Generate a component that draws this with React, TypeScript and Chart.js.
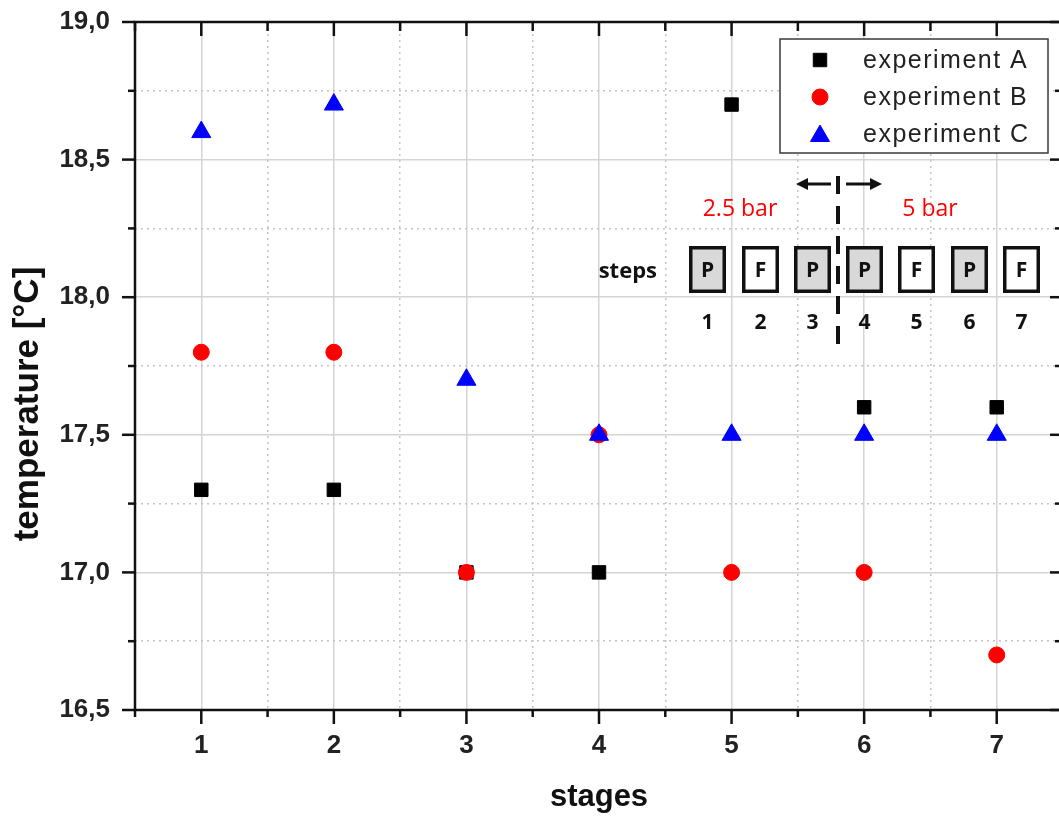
import React, { useEffect, useRef } from "react";
import { Chart, registerables } from "chart.js";

Chart.register(...registerables);

// ---- data ----
const stages = [1, 2, 3, 4, 5, 6, 7];
const experimentA = [17.3, 17.3, 17.0, 17.0, 18.7, 17.6, 17.6];
const experimentB = [17.8, 17.8, 17.0, 17.5, 17.0, 17.0, 16.7];
const experimentC = [18.6, 18.7, 17.7, 17.5, 17.5, 17.5, 17.5];
const seriesLabels = ["experiment A", "experiment B", "experiment C"];
const seriesColors = ["#000000", "#ff0000", "#0000ff"];
const seriesStyles = ["rect", "circle", "triangle"];

const xTitle = "stages";
const yTitle = "temperature [°C]";

const stepLetters = ["P", "F", "P", "P", "F", "P", "F"];
const stepNumbers = ["1", "2", "3", "4", "5", "6", "7"];
const stepsLabel = "steps";
const pressureLabels = ["2.5 bar", "5 bar"];

const CANVAS_W = 1075;
const CANVAS_H = 816;

const isMajor = (v: number, step: number) =>
  Math.abs(v / step - Math.round(v / step)) < 1e-6;

function drawMarker(ctx: CanvasRenderingContext2D, style: string, x: number, y: number, r: number) {
  ctx.beginPath();
  if (style === "rect") {
    const s = r * Math.SQRT1_2;
    ctx.rect(x - s, y - s, 2 * s, 2 * s);
  } else if (style === "circle") {
    ctx.arc(x, y, r, 0, Math.PI * 2);
  } else {
    let a = 0;
    ctx.moveTo(x + Math.sin(a) * r, y - Math.cos(a) * r);
    a += (2 * Math.PI) / 3;
    ctx.lineTo(x + Math.sin(a) * r, y - Math.cos(a) * r);
    a += (2 * Math.PI) / 3;
    ctx.lineTo(x + Math.sin(a) * r, y - Math.cos(a) * r);
    ctx.closePath();
  }
  ctx.fill();
  ctx.stroke();
}

const zeroPad = (s: any) => {
  s.paddingTop = 0;
  s.paddingBottom = 0;
  s.paddingLeft = 0;
  s.paddingRight = 0;
};

const framePlugin = {
  id: "frameAndDecor",
  afterDraw(chart: any) {
    const ctx: CanvasRenderingContext2D = chart.ctx;
    const { left, right, top, bottom } = chart.chartArea;
    const xs = chart.scales.x;
    const ys = chart.scales.y;
    ctx.save();
    ctx.strokeStyle = "#111";
    ctx.lineWidth = 2.5;
    ctx.lineCap = "butt";
    const line = (x1: number, y1: number, x2: number, y2: number) => {
      ctx.beginPath();
      ctx.moveTo(x1, y1);
      ctx.lineTo(x2, y2);
      ctx.stroke();
    };
    // frame
    line(left - 1.25, top, right + 1.25, top);
    line(left - 1.25, bottom, right + 1.25, bottom);
    line(left, top, left, bottom);
    line(right, top, right, bottom);
    // x ticks
    xs.ticks.forEach((t: any) => {
      const px = xs.getPixelForValue(t.value);
      const major = isMajor(t.value, 1);
      line(px, bottom, px, bottom + (major ? 14 : 7));
      line(px, top, px, top + (major ? 14 : 9));
    });
    // y ticks
    ys.ticks.forEach((t: any) => {
      const py = ys.getPixelForValue(t.value);
      const major = isMajor(t.value, 0.5);
      line(left - (major ? 13 : 7), py, left, py);
      line(right, py, right - (major ? 13 : 8), py);
    });

    // axis titles
    ctx.fillStyle = "#111";
    ctx.font = "bold 31px 'Liberation Sans', Arial, sans-serif";
    ctx.textAlign = "center";
    ctx.textBaseline = "alphabetic";
    ctx.fillText(xTitle, 599, 806);
    ctx.save();
    ctx.translate(28, 404);
    ctx.rotate(-Math.PI / 2);
    ctx.font = "bold 35px 'Liberation Sans', Arial, sans-serif";
    ctx.textBaseline = "middle";
    ctx.fillText(yTitle, 0, 0);
    ctx.restore();

    // legend
    ctx.fillStyle = "#ffffff";
    ctx.fillRect(780, 39, 268, 114);
    ctx.strokeStyle = "#3a3a3a";
    ctx.lineWidth = 1.5;
    ctx.strokeRect(780, 39, 268, 114);
    const rowsY = [60, 97, 134];
    const radii = [9.5, 8, 11];
    seriesLabels.forEach((lab, i) => {
      ctx.fillStyle = seriesColors[i];
      ctx.strokeStyle = seriesColors[i];
      ctx.lineWidth = 1;
      drawMarker(ctx, seriesStyles[i], 820, rowsY[i] + (i === 2 ? 2 : 0), radii[i]);
      ctx.fillStyle = "#222";
      ctx.font = "25px 'Liberation Sans', Arial, sans-serif";
      (ctx as any).letterSpacing = "1.5px";
      ctx.textAlign = "left";
      ctx.textBaseline = "middle";
      ctx.fillText(lab, 863, rowsY[i] + 1);
      (ctx as any).letterSpacing = "0px";
    });

    // inset: steps diagram
    const boxLefts = [689, 742, 794, 846, 898, 951, 1003];
    boxLefts.forEach((bx, i) => {
      const w = 37, h = 47, bt = 246;
      ctx.fillStyle = stepLetters[i] === "P" ? "#d9d9d9" : "#ffffff";
      ctx.fillRect(bx, bt, w, h);
      ctx.strokeStyle = "#111";
      ctx.lineWidth = 3.5;
      ctx.strokeRect(bx + 1.75, bt + 1.75, w - 3.5, h - 3.5);
      ctx.fillStyle = "#111";
      ctx.font = "bold 21px 'Open Sans', sans-serif";
      ctx.textAlign = "center";
      ctx.textBaseline = "middle";
      ctx.fillText(stepLetters[i], bx + w / 2, 271);
      ctx.font = "bold 21px 'Open Sans', sans-serif";
      ctx.fillText(stepNumbers[i], bx + w / 2, 323);
    });
    ctx.fillStyle = "#111";
    ctx.font = "bold 22px 'Open Sans', sans-serif";
    ctx.textAlign = "right";
    ctx.textBaseline = "middle";
    ctx.fillText(stepsLabel, 657, 272);

    ctx.fillStyle = "#ff0000";
    ctx.font = "23px 'Open Sans', sans-serif";
    ctx.textAlign = "center";
    ctx.fillText(pressureLabels[0], 740, 209);
    ctx.fillText(pressureLabels[1], 930, 209);

    // dashed divider
    ctx.strokeStyle = "#111";
    ctx.lineWidth = 4;
    ctx.setLineDash([18, 12]);
    line(838, 176, 838, 350);
    ctx.setLineDash([]);
    // arrows
    ctx.lineWidth = 3;
    line(831, 184, 803, 184);
    line(846, 184, 874, 184);
    ctx.fillStyle = "#111";
    ctx.beginPath();
    ctx.moveTo(796, 184);
    ctx.lineTo(808, 178);
    ctx.lineTo(808, 190);
    ctx.closePath();
    ctx.fill();
    ctx.beginPath();
    ctx.moveTo(882, 184);
    ctx.lineTo(870, 178);
    ctx.lineTo(870, 190);
    ctx.closePath();
    ctx.fill();

    ctx.restore();
  },
};

export default function App() {
  const ref = useRef<HTMLCanvasElement | null>(null);

  useEffect(() => {
    if (!ref.current) return;
    const mk = (vals: number[]) => stages.map((s, i) => ({ x: s, y: vals[i] }));
    const chart = new Chart(ref.current, {
      type: "scatter",
      data: {
        datasets: [
          {
            label: seriesLabels[0],
            data: mk(experimentA),
            pointStyle: "rect",
            pointRadius: 9.5,
            backgroundColor: seriesColors[0],
            borderColor: seriesColors[0],
            borderWidth: 1,
            order: 3,
          },
          {
            label: seriesLabels[1],
            data: mk(experimentB),
            pointStyle: "circle",
            pointRadius: 8,
            backgroundColor: seriesColors[1],
            borderColor: seriesColors[1],
            borderWidth: 1,
            order: 2,
          },
          {
            label: seriesLabels[2],
            data: mk(experimentC),
            pointStyle: "triangle",
            pointRadius: 11,
            backgroundColor: seriesColors[2],
            borderColor: seriesColors[2],
            borderWidth: 1,
            order: 1,
          },
        ],
      },
      options: {
        animation: false,
        responsive: false,
        devicePixelRatio: 1,
        events: [],
        layout: { padding: { top: 22, right: CANVAS_W - 1063, left: 0, bottom: 0 } },
        plugins: { legend: { display: false }, tooltip: { enabled: false } },
        scales: {
          x: {
            type: "linear",
            min: 0.5,
            max: 7.5,
            afterFit: (s: any) => {
              s.height = CANVAS_H - 710;
              zeroPad(s);
            },
            border: {
              display: false,
              dash: (c: any) => (isMajor(c.tick.value, 1) ? [] : [2, 4]),
            },
            grid: {
              drawTicks: false,
              lineWidth: 1.5,
              color: (c: any) => {
                const v = c.tick.value;
                if (v <= 0.5 || v >= 7.5) return "rgba(0,0,0,0)";
                return isMajor(v, 1) ? "#d4d4d4" : "#c4c4c4";
              },
            },
            ticks: {
              stepSize: 0.5,
              autoSkip: false,
              maxRotation: 0,
              padding: 20,
              color: "#222",
              font: { family: "'Liberation Sans', Arial, sans-serif", size: 26, weight: "bold" },
              callback: (v: any) => (isMajor(Number(v), 1) ? String(Math.round(Number(v))) : ""),
            },
          },
          y: {
            type: "linear",
            min: 16.5,
            max: 19.0,
            afterFit: (s: any) => {
              s.width = 135;
              zeroPad(s);
            },
            border: {
              display: false,
              dash: (c: any) => (isMajor(c.tick.value, 0.5) ? [] : [2, 4]),
            },
            grid: {
              drawTicks: false,
              lineWidth: 1.5,
              color: (c: any) => {
                const v = c.tick.value;
                if (v <= 16.5 + 1e-6 || v >= 19 - 1e-6) return "rgba(0,0,0,0)";
                return isMajor(v, 0.5) ? "#d4d4d4" : "#c4c4c4";
              },
            },
            ticks: {
              stepSize: 0.25,
              autoSkip: false,
              padding: 25,
              color: "#222",
              font: { family: "'Liberation Sans', Arial, sans-serif", size: 26, weight: "bold" },
              callback: (v: any) =>
                isMajor(Number(v), 0.5) ? Number(v).toFixed(1).replace(".", ",") : "",
            },
          },
        },
      },
      plugins: [framePlugin],
    } as any);
    return () => chart.destroy();
  }, []);

  return (
    <div
      style={{
        position: "absolute",
        left: 0,
        top: 0,
        width: 1059,
        height: 816,
        overflow: "hidden",
        background: "#fff",
      }}
    >
      <canvas ref={ref} width={CANVAS_W} height={CANVAS_H} style={{ display: "block" }} />
    </div>
  );
}
